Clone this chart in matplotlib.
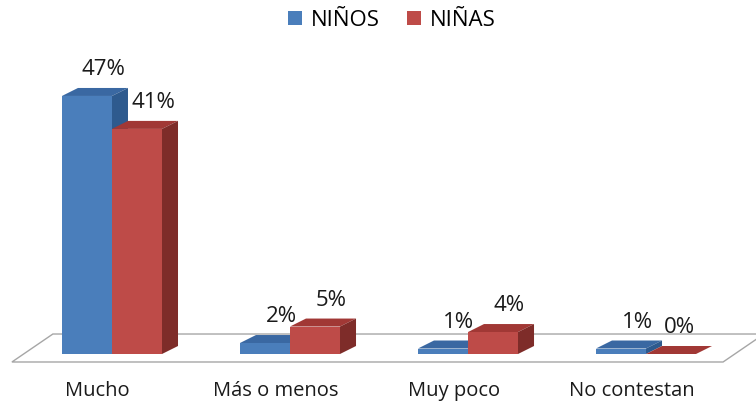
import matplotlib
matplotlib.use("Agg")
import matplotlib.pyplot as plt
from matplotlib.patches import Polygon, Patch

categories = ["Mucho", "Más o menos", "Muy poco", "No contestan"]
series_names = ["NIÑOS", "NIÑAS"]
ninos = [47, 2, 1, 1]
ninas = [41, 5, 4, 0]
values = [ninos, ninas]

front_cols = ["#4A7EBB", "#BE4B48"]
top_cols = ["#3A68A2", "#A13835"]
side_cols = ["#2E5A8E", "#7E2C29"]

plt.rcParams['font.family'] = ['Open Sans', 'DejaVu Sans']

fig = plt.figure(figsize=(7.56, 4.05), dpi=100)
ax = fig.add_axes([0, 0, 1, 1])
ax.set_xlim(-0.629, 3.618)
ax.set_ylim(-9.29, 64.48)
ax.axis('off')

bw = 0.281      # bar width (category units)
ddx = 0.09      # bar depth offset x
ddy = 1.457     # bar depth offset y

# floor
f_front = -1.457
f_back = 3.64
fx0, fx1 = -0.562, 3.433
fdx = 0.23
floor = Polygon([(fx0, f_front), (fx1, f_front), (fx1 + fdx, f_back), (fx0 + fdx, f_back)],
                closed=True, facecolor='white', edgecolor='#A6A6A6', lw=1.0, zorder=1)
ax.add_patch(floor)

for i, cat in enumerate(categories):
    for s in range(2):
        v = values[s][i]
        x0 = i - bw + s * bw
        x1 = x0 + bw
        z = 2 + i * 3 + s
        top = Polygon([(x0, v), (x1, v), (x1 + ddx, v + ddy), (x0 + ddx, v + ddy)],
                      closed=True, facecolor=top_cols[s], edgecolor='none', zorder=z)
        side = Polygon([(x1, 0), (x1 + ddx, ddy), (x1 + ddx, v + ddy), (x1, v)],
                       closed=True, facecolor=side_cols[s], edgecolor='none', zorder=z)
        ax.add_patch(top)
        ax.add_patch(side)
        if v > 0:
            ax.bar(x0, v, width=bw, align='edge', color=front_cols[s], zorder=z, lw=0)
        dxl = 0.09 if (s == 0 or v > 0) else 0.05
        ax.text((x0 + x1) / 2 + dxl, v + ddy + 3.3, f"{v}%", ha='center', va='center',
                fontsize=16, color='#1A1A1A', zorder=20)
    ax.text(i - 0.08, -6.8, cat, ha='center', va='center', fontsize=14.5, color='#1A1A1A')

handles = [Patch(facecolor=front_cols[s], edgecolor='none') for s in range(2)]
fig.legend(handles, series_names, loc='upper center', bbox_to_anchor=(0.518, 1.025), ncol=2,
           frameon=False, fontsize=16, handlelength=0.65, handleheight=0.65,
           handletextpad=0.4, columnspacing=1.2)

fig.savefig("out.png", dpi=100)
